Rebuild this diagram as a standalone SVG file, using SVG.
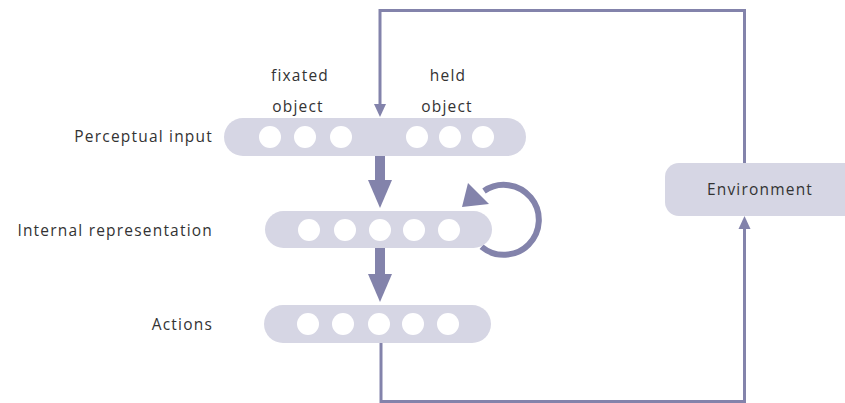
<svg xmlns="http://www.w3.org/2000/svg" width="845" height="403" viewBox="0 0 845 403">
  <style>
    .bar { fill: #d6d6e4; }
    .unit { fill: #ffffff; }
    .lbl { font-family: "Open Sans", "Noto Sans", "DejaVu Sans", sans-serif; font-size: 15.5px; letter-spacing: 1.2px; fill: #333333; }
    .wire { fill: none; stroke: #8383ab; stroke-width: 3; }
    .head { fill: #8383ab; }
  </style>
  <rect width="845" height="403" fill="#ffffff"/>

  <!-- connectors -->
  <g id="connectors">
    <!-- environment back to perceptual input -->
    <polyline class="wire" points="744.5,163 744.5,10.5 380,10.5 380,106"/>
    <polygon class="head" points="374,104 386,104 380,117"/>
    <!-- actions out to environment -->
    <polyline class="wire" points="381,343 381,401.5 744.5,401.5 744.5,228"/>
    <polygon class="head" points="738.5,229 750.5,229 744.5,216"/>
    <!-- perceptual input to internal representation -->
    <rect class="head" x="375" y="155" width="10" height="27"/>
    <polygon class="head" points="368,180 392,180 380,208"/>
    <!-- internal representation to actions -->
    <rect class="head" x="375" y="247" width="10" height="29"/>
    <polygon class="head" points="368,274 392,274 380,302"/>
    <!-- recurrent loop on internal representation -->
    <path d="M481.5 246.8 A35 35 0 1 0 484 191" fill="none" stroke="#8383ab" stroke-width="6"/>
    <polygon class="head" points="462,207 468,183 489,204"/>
  </g>

  <!-- perceptual input layer -->
  <g id="perceptual-input">
    <rect class="bar" x="224" y="118" width="302" height="38" rx="19"/>
    <circle class="unit" cx="270" cy="137" r="11"/>
    <circle class="unit" cx="305" cy="137" r="11"/>
    <circle class="unit" cx="341" cy="137" r="11"/>
    <circle class="unit" cx="417" cy="137" r="11"/>
    <circle class="unit" cx="450" cy="137" r="11"/>
    <circle class="unit" cx="483" cy="137" r="11"/>
    <text class="lbl" x="213" y="142" text-anchor="end">Perceptual input</text>
    <text class="lbl" x="300" y="81" text-anchor="middle">fixated</text>
    <text class="lbl" x="298" y="112" text-anchor="middle">object</text>
    <text class="lbl" x="448" y="81" text-anchor="middle">held</text>
    <text class="lbl" x="447" y="112" text-anchor="middle">object</text>
  </g>

  <!-- internal representation layer -->
  <g id="internal-representation">
    <rect class="bar" x="265" y="211" width="227" height="37" rx="18.5"/>
    <circle class="unit" cx="309" cy="230" r="11"/>
    <circle class="unit" cx="345" cy="230" r="11"/>
    <circle class="unit" cx="380" cy="230" r="11"/>
    <circle class="unit" cx="414" cy="230" r="11"/>
    <circle class="unit" cx="449" cy="230" r="11"/>
    <text class="lbl" x="213" y="236" text-anchor="end">Internal representation</text>
  </g>

  <!-- actions layer -->
  <g id="actions">
    <rect class="bar" x="264" y="305" width="227" height="38" rx="19"/>
    <circle class="unit" cx="308" cy="324" r="11"/>
    <circle class="unit" cx="343" cy="324" r="11"/>
    <circle class="unit" cx="379" cy="324" r="11"/>
    <circle class="unit" cx="413" cy="324" r="11"/>
    <circle class="unit" cx="448" cy="324" r="11"/>
    <text class="lbl" x="213" y="330" text-anchor="end">Actions</text>
  </g>

  <!-- environment -->
  <g id="environment">
    <rect class="bar" x="665" y="163" width="200" height="53" rx="14"/>
    <text class="lbl" x="760" y="195" text-anchor="middle">Environment</text>
  </g>
</svg>
